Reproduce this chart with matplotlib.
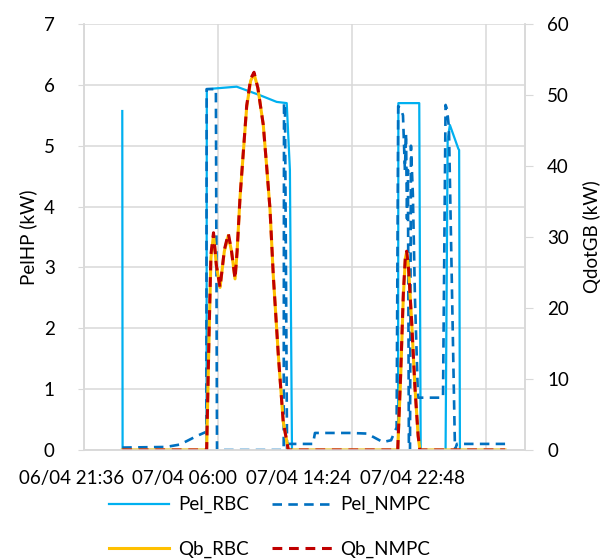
import matplotlib
matplotlib.use("Agg")
import matplotlib.pyplot as plt
import matplotlib.transforms as mtransforms

plt.rcParams['font.family'] = ['Lato', 'DejaVu Sans']

# time in hours from 07/04 00:00
t_pel_rbc = [0.0, 0.02, 5.28, 5.30, 7.17, 8.63, 9.68, 10.31, 10.51, 10.64, 17.29, 17.31,
             18.62, 18.71, 20.27, 20.40, 20.54, 21.07, 21.12, 21.17, 24.0]
pel_rbc = [5.57, 0.0, 0.0, 5.93, 5.97, 5.83, 5.72, 5.70, 4.6, 0.0, 0.0, 5.70,
           5.70, 0.0, 0.0, 5.1, 5.34, 4.95, 4.93, 0.0, 0.0]

t_pel_nmpc = [0.0, 2.74, 3.62, 4.67, 5.19, 5.27, 5.29, 5.87, 5.94, 10.12, 10.14, 10.20,
              10.33, 10.35, 11.96, 12.08, 13.02, 14.28, 15.34, 15.84, 16.34, 16.85, 17.20,
              17.30, 17.47, 17.60, 17.72, 17.79, 17.85, 17.91, 17.97, 18.04, 18.10, 18.22,
              18.35, 18.54, 20.11, 20.27, 20.36, 20.48, 20.86, 20.98, 24.0]
pel_nmpc = [0.04, 0.05, 0.09, 0.23, 0.29, 0.29, 5.93, 5.93, 0.0, 0.0, 5.70, 5.70,
            0.0, 0.1, 0.1, 0.28, 0.28, 0.28, 0.27, 0.2, 0.13, 0.16, 0.37,
            5.65, 5.6, 5.5, 4.6, 5.2, 3.8, 4.6, 0.0, 0.0, 5.0, 4.2,
            2.5, 0.86, 0.86, 5.67, 5.6, 5.3, 0.0, 0.1, 0.1]

t_qb = [0.0, 5.29, 5.44, 5.56, 5.72, 5.90, 6.13, 6.40, 6.65, 6.85, 7.07, 7.20, 7.38,
        7.80, 8.05, 8.26, 8.50, 8.84, 9.05, 9.26, 9.47, 9.78, 10.09, 10.41,
        17.27, 17.45, 17.62, 17.75, 17.83, 17.95, 18.14, 18.35, 18.55, 18.66, 24.0]
qb_rbc = [0.0, 0.0, 15.9, 27.1, 30.3, 26.0, 22.9, 28.0, 30.2, 28.0, 24.1, 28.0, 35.5,
          48.3, 52.0, 53.0, 51.0, 45.8, 40.0, 34.0, 24.5, 13.5, 4.0, 0.0,
          0.0, 10.0, 21.5, 27.0, 27.9, 25.5, 18.2, 8.8, 2.0, 0.0, 0.0]
qb_nmpc = [0.0, 0.0, 16.5, 27.6, 30.6, 26.0, 22.9, 28.2, 30.5, 28.0, 24.1, 28.0, 35.5,
           48.5, 52.3, 53.2, 51.0, 45.8, 40.0, 34.0, 24.5, 13.5, 4.0, 0.0,
           0.0, 10.5, 22.0, 27.3, 28.0, 25.5, 18.2, 8.8, 2.0, 0.0, 0.0]

grid_x = [-2.4, 6.0, 14.4, 22.8]
label_x = [-3.15, 3.93, 11.08, 18.22]
x_labels = ['06/04 21:36', '07/04 06:00', '07/04 14:24', '07/04 22:48']

fs = 13.5
grey = '#D9D9D9'

fig = plt.figure(figsize=(6.14, 5.6), dpi=100)
ax = fig.add_axes([84 / 614, 1 - 450 / 560, (525 - 84) / 614, (450 - 24) / 560])
ax2 = ax.twinx()

l1, = ax.plot(t_pel_rbc, pel_rbc, color='#00B0F0', lw=1.6, label='Pel_RBC')
l2, = ax.plot(t_pel_nmpc, pel_nmpc, color='#0070C0', lw=1.9, ls=(0, (3.6, 2.4)), label='Pel_NMPC')
l3, = ax2.plot(t_qb, qb_rbc, color='#FFC000', lw=2.2, label='Qb_RBC')
l4, = ax2.plot(t_qb, qb_nmpc, color='#C00000', lw=2.2, ls=(0, (3.2, 2.2)), label='Qb_NMPC')

ax.set_xlim(-2.4, 25.25)
ax.set_ylim(0, 7)
ax2.set_ylim(0, 60)
ax.set_yticks(range(0, 8))
ax2.set_yticks(range(0, 61, 10))

ax.set_xticks(grid_x)
ax.set_xticklabels([])
ax.tick_params(axis='x', length=0)
ax.grid(True, color=grey, lw=1.1)
ax.set_axisbelow(True)

ax.tick_params(axis='y', length=4, color=grey, labelsize=fs, pad=17)
ax2.tick_params(axis='y', length=6, color=grey, labelsize=fs, pad=10)

for a in (ax, ax2):
    a.spines['top'].set_visible(False)
    for s in ('left', 'right', 'bottom'):
        a.spines[s].set_color(grey)
        a.spines[s].set_linewidth(1.1)

trans = mtransforms.blended_transform_factory(ax.transData, ax.transAxes)
for xp, lab in zip(label_x, x_labels):
    ax.text(xp, -0.068, lab, transform=trans, ha='center', va='center',
            fontsize=fs, clip_on=False)

fig.text(28 / 614, 1 - 237 / 560, 'PelHP (kW)', rotation=90, ha='center', va='center', fontsize=fs)
fig.text(592 / 614, 1 - 237 / 560, 'QdotGB (kW)', rotation=90, ha='center', va='center', fontsize=fs)

# row-major order like the original: Pel pair on top, Qb pair below
fig.legend(handles=[l1, l3, l2, l4], ncol=2, loc='center',
           bbox_to_anchor=(270 / 614, 1 - 527 / 560), frameon=False,
           fontsize=fs, handlelength=3.2, handletextpad=0.45,
           columnspacing=1.25, labelspacing=1.45)

fig.savefig('out.png', dpi=100)
